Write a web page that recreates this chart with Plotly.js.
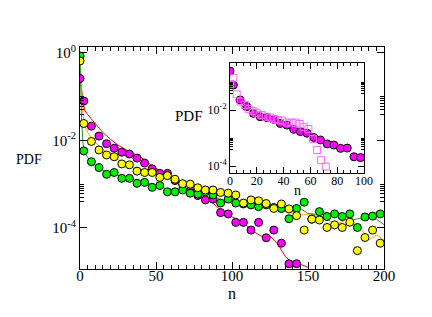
<!DOCTYPE html>
<html>
<head>
<meta charset="utf-8">
<script src="https://cdn.plot.ly/plotly-3.0.1.min.js"></script>
<style>html,body{margin:0;padding:0;background:#fff}#chart{width:432px;height:317px}</style>
</head>
<body>
<div id="chart"></div>
<script>
// ---- main panel data (values are log10 of PDF) ----
const nCircle = [0,2.5,7.5,12.5,17.5,22.5,27.5,32.5,37.5,42.5,47.5,52.5,57.5,62.5,67.5,72.5,77.5,82.5,87.5,92.5,97.5,102.5,107.5,112.5,117.5,122.5,127.5,132.5,137.5,142.5,147.5,152.5,157.5,162.5,167.5,172.5,177.5,182.5,187.5,192.5,197.5];
const magentaLog = [-0.583,-1.097,-1.673,-1.90,-2.074,-2.177,-2.27,-2.311,-2.404,-2.517,-2.65,-2.753,-2.753,-2.918,-3.00,-3.154,-3.26,-3.36,-3.34,-3.65,-3.68,-3.874,-3.874,-4.05,-3.874,-4.225,-4.05,-4.35,-4.82,-4.82];
const yellowLog = [-0.182,-1.612,-2.023,-2.218,-2.332,-2.373,-2.537,-2.558,-2.702,-2.733,-2.733,-2.846,-2.805,-2.887,-2.990,-3.000,-3.082,-3.134,-3.134,-3.19,-3.206,-3.247,-3.432,-3.36,-3.381,-3.443,-3.556,-3.453,-3.566,-3.72,-4.05,-3.80,-3.82,-3.99,-3.93,-3.99,-3.87,-4.52,-4.22,-4.05,-4.35];
const greenLog = [-0.069,-2.239,-2.486,-2.62,-2.774,-2.733,-2.866,-2.866,-2.98,-2.959,-3.072,-3.031,-3.175,-3.175,-3.134,-3.206,-3.226,-3.175,-3.247,-3.432,-3.34,-3.432,-3.453,-3.473,-3.514,-3.473,-3.535,-3.556,-3.79,-3.556,-3.412,-3.80,-3.628,-3.74,-3.68,-3.74,-3.68,-3.99,-3.75,-3.73,-3.68];

const nLine = [0,1,2,3,5,7.5,10,15,20,25,30,35,40,45,50,55,60,65,70,75,80,85,90,95,100,105,110,115,120,125,130,135,140,145,150,155,160,165,170,175,180,185,190,195,200];
const redLineLog = [-0.583,-0.840,-1.097,-1.303,-1.406,-1.509,-1.632,-1.817,-1.972,-2.105,-2.208,-2.301,-2.383,-2.517,-2.640,-2.722,-2.825,-2.928,-3.031,-3.154,-3.257,-3.360,-3.514,-3.648,-3.751,-3.823,-3.957,-4.101,-4.204,-4.183,-4.368,-4.646,-4.821,-4.831,-4.903];
const orangeLineLog = [-0.182,-0.892,-1.406,-1.632,-1.817,-1.941,-2.044,-2.208,-2.332,-2.435,-2.517,-2.599,-2.681,-2.722,-2.764,-2.805,-2.846,-2.908,-2.980,-3.031,-3.093,-3.124,-3.175,-3.216,-3.257,-3.432,-3.401,-3.401,-3.514,-3.484,-3.514,-3.628,-3.669,-3.700,-3.700,-3.700,-3.772,-3.854,-3.905,-3.813,-3.895,-4.029,-4.276,-4.163,-4.276];
const greenLineLog = [-0.069,-1.509,-2.074,-2.26,-2.383,-2.486,-2.558,-2.681,-2.743,-2.794,-2.846,-2.897,-2.949,-2.99,-3.031,-3.083,-3.134,-3.134,-3.154,-3.196,-3.196,-3.216,-3.309,-3.401,-3.36,-3.432,-3.453,-3.473,-3.494,-3.504,-3.525,-3.576,-3.566,-3.556,-3.669,-3.69,-3.628,-3.70,-3.70,-3.70,-3.813,-3.772,-3.741,-3.80,-3.926];

// ---- inset data (log10 of PDF) ----
const insetNCircle = [0,2.5,7.5,12.5,17.5,22.5,27.5,32.5,37.5,42.5,47.5,52.5,57.5,62.5,67.5,72.5,77.5,82.5,87.5,92.5,97.5];
const insetMagentaLog = [-0.61,-1.11,-1.64,-1.88,-2.12,-2.24,-2.27,-2.33,-2.48,-2.54,-2.69,-2.77,-2.83,-2.98,-3.07,-3.21,-3.25,-3.37,-3.36,-3.67,-3.70];
const insetNSquare = [0,2.5,5,8,11,14,17,20,23.5,27,30,33,36,39,42.5,46,49,52,55,58.5,62,65,68,71.5];
const insetSquareLog = [-1.08,-0.85,-1.44,-1.70,-1.82,-1.97,-2.04,-2.10,-2.18,-2.24,-2.27,-2.32,-2.36,-2.38,-2.45,-2.45,-2.45,-2.50,-2.60,-2.68,-3.04,-3.43,-3.79,-4.02];

const mainYTicks = [1, 1e-2, 1e-4];
const mainYTickText = ['10<sup>0</sup>', '10<sup>-2</sup>', '10<sup>-4</sup>'];
const insetYTicks = [1e-2, 1e-4];
const insetYTickText = ['10<sup>-2</sup>', '10<sup>-4</sup>'];

const pw = v => v.map(e => Math.pow(10, e));
const FONT = 'Liberation Serif, Times New Roman, serif';

function minorVals(exps) {
  const out = [];
  exps.forEach(e => { for (let k = 4; k <= 10; k++) out.push(k * Math.pow(10, e)); });
  return out;
}

const lineStyle = (c) => ({color: c, width: 1});
const circ = (c) => ({symbol: 'circle', size: 8, color: c, line: {color: '#000', width: 1}});

const traces = [
  {x: nLine.slice(0, redLineLog.length), y: pw(redLineLog), mode: 'lines', line: lineStyle('#ff0000'), xaxis: 'x', yaxis: 'y'},
  {x: nLine, y: pw(orangeLineLog), mode: 'lines', line: lineStyle('#ffa500'), xaxis: 'x', yaxis: 'y'},
  {x: nLine, y: pw(greenLineLog), mode: 'lines', line: lineStyle('#1e9a1e'), xaxis: 'x', yaxis: 'y'},
  {x: nCircle.slice(0, magentaLog.length), y: pw(magentaLog), mode: 'markers', marker: circ('#ff00ff'), xaxis: 'x', yaxis: 'y'},
  {x: nCircle, y: pw(greenLog), mode: 'markers', marker: circ('#00f000'), xaxis: 'x', yaxis: 'y'},
  {x: nCircle, y: pw(yellowLog), mode: 'markers', marker: circ('#ffff00'), xaxis: 'x', yaxis: 'y'},
  {x: insetNCircle, y: pw(insetMagentaLog), mode: 'markers', marker: circ('#ff00ff'), xaxis: 'x2', yaxis: 'y2'},
  {x: insetNSquare, y: pw(insetSquareLog), mode: 'markers', marker: {symbol: 'square-open', size: 7, color: '#ff66ff', line: {width: 1}}, xaxis: 'x2', yaxis: 'y2'}
];

const axBase = {
  showline: true, linecolor: '#000', linewidth: 1, mirror: 'ticks',
  ticks: 'inside', tickcolor: '#000', tickwidth: 1,
  showgrid: false, zeroline: false, fixedrange: true
};

const layout = {
  width: 432, height: 317, autosize: false,
  margin: {l: 0, r: 0, t: 0, b: 0},
  paper_bgcolor: '#fff', plot_bgcolor: '#fff',
  showlegend: false,
  font: {family: FONT, color: '#000'},
  xaxis: Object.assign({}, axBase, {
    domain: [0.18519, 0.88889], anchor: 'y', range: [0, 200],
    tickmode: 'linear', tick0: 0, dtick: 50, ticklen: 7, ticklabelstandoff: -7,
    minor: {ticks: 'inside', dtick: 5, tick0: 0, ticklen: 4, tickcolor: '#000'},
    tickfont: {family: FONT, size: 15, color: '#000'}
  }),
  yaxis: Object.assign({}, axBase, {
    domain: [0.15142, 0.85174], anchor: 'x', type: 'log', range: [-4.94, 0.137],
    tickmode: 'array', tickvals: mainYTicks, ticktext: mainYTickText, ticklen: 7,
    minor: {ticks: 'inside', tickmode: 'array', tickvals: minorVals([-2, -4]), ticklen: 4, tickcolor: '#000'},
    tickfont: {family: FONT, size: 15, color: '#000'}
  }),
  xaxis2: Object.assign({}, axBase, {
    domain: [0.53241, 0.84259], anchor: 'y2', range: [0, 100],
    tickmode: 'linear', tick0: 0, dtick: 20, ticklen: 6, ticklabelstandoff: -3,
    minor: {ticks: 'inside', dtick: 5, tick0: 0, ticklen: 3, tickcolor: '#000'},
    tickfont: {family: FONT, size: 12, color: '#000'}
  }),
  yaxis2: Object.assign({}, axBase, {
    domain: [0.45426, 0.80126], anchor: 'x2', type: 'log', range: [-4.25, -0.321],
    tickmode: 'array', tickvals: insetYTicks, ticktext: insetYTickText, ticklen: 6,
    minor: {ticks: 'inside', tickmode: 'array', tickvals: minorVals([-2, -4]), ticklen: 3, tickcolor: '#000'},
    tickfont: {family: FONT, size: 12, color: '#000'}
  }),
  annotations: [
    {text: 'PDF', xref: 'paper', yref: 'paper', x: 28.7/432, y: 1 - 159/317, xanchor: 'center', yanchor: 'middle', showarrow: false, font: {family: FONT, size: 14, color: '#000'}},
    {text: 'n', xref: 'paper', yref: 'paper', x: 232/432, y: 1 - 293/317, xanchor: 'center', yanchor: 'middle', showarrow: false, font: {family: FONT, size: 16, color: '#000'}},
    {text: 'PDF', xref: 'paper', yref: 'paper', x: 189/432, y: 1 - 116/317, xanchor: 'center', yanchor: 'middle', showarrow: false, font: {family: FONT, size: 15, color: '#000'}},
    {text: 'n', xref: 'paper', yref: 'paper', x: 297.5/432, y: 1 - 190/317, xanchor: 'center', yanchor: 'middle', showarrow: false, font: {family: FONT, size: 14, color: '#000'}}
  ]
};

Plotly.newPlot('chart', traces, layout, {staticPlot: true, displayModeBar: false});
</script>
</body>
</html>
